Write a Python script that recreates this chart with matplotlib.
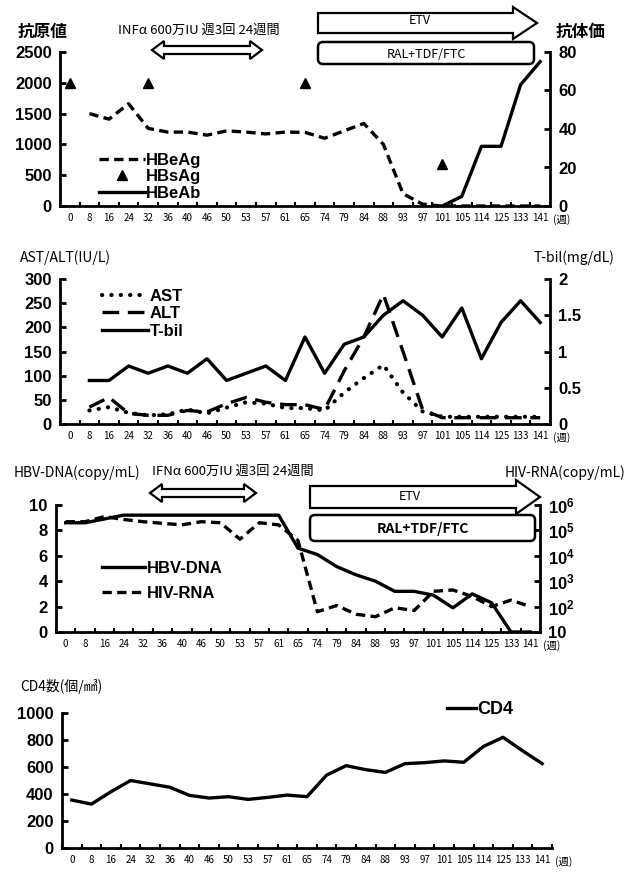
import numpy as np
import matplotlib
matplotlib.use('Agg')
import matplotlib.pyplot as plt
from matplotlib.patches import Polygon, FancyBboxPatch
from matplotlib.lines import Line2D
from matplotlib.transforms import Affine2D
from matplotlib.ticker import NullLocator

plt.rcParams['font.family'] = ['Liberation Sans', 'Noto Sans CJK JP', 'DejaVu Sans']
plt.rcParams['mathtext.fontset'] = 'custom'
plt.rcParams['mathtext.bf'] = 'Liberation Sans:bold'
plt.rcParams['mathtext.rm'] = 'Liberation Sans'

nan = np.nan

# week labels shared by all four panels
weeks = ['0', '8', '16', '24', '32', '36', '40', '46', '50', '53', '57', '61', '65',
         '74', '79', '84', '88', '93', '97', '101', '105', '114', '125', '133', '141']

# panel 1: antigen / antibody
hbeag = [nan, 1500, 1410, 1660, 1260, 1200, 1200, 1150, 1220, 1200, 1170, 1200, 1195,
         1100, 1220, 1340, 1000, 200, 30, 0, 0, 0, 0, 0, 0]
hbsag = [2000, nan, nan, nan, 2000, nan, nan, nan, nan, nan, nan, nan, 2000,
         nan, nan, nan, nan, nan, nan, 680, nan, nan, nan, nan, nan]
hbeab = [nan, nan, nan, nan, nan, nan, nan, nan, nan, nan, nan, nan, nan,
         nan, nan, nan, nan, nan, nan, 0, 5, 31, 31, 63, 75]

# panel 2: liver enzymes and bilirubin
ast = [nan, 28, 35, 23, 18, 20, 30, 22, 34, 45, 42, 33, 33,
       28, 65, 95, 122, 65, 26, 15, 15, 15, 15, 15, 15]
alt = [nan, 35, 55, 22, 18, 18, 28, 25, 42, 55, 45, 40, 40,
       30, 110, 180, 268, 150, 30, 13, 13, 13, 13, 13, 13]
tbil = [nan, 0.6, 0.6, 0.8, 0.7, 0.8, 0.7, 0.9, 0.6, 0.7, 0.8, 0.6, 1.2,
        0.7, 1.1, 1.2, 1.5, 1.7, 1.5, 1.2, 1.6, 0.9, 1.4, 1.7, 1.4]

# panel 3: viral loads
hbv_dna = [8.6, 8.6, 8.9, 9.2, 9.2, 9.2, 9.2, 9.2, 9.2, 9.2, 9.2, 9.2, 6.6,
           6.1, 5.15, 4.5, 4.0, 3.2, 3.2, 2.9, 1.9, 3.0, 2.3, 0, 0]
hiv_rna = [220000, 220000, 350000, 270000, 220000, 190000, 165000, 220000, 200000,
           45000, 200000, 165000, 40000, 63, 110, 50, 40, 90, 70, 400, 450, 250,
           100, 180, 100]

# panel 4: CD4 count
cd4 = [355, 325, 417, 500, 475, 450, 390, 370, 380, 360, 375, 392, 380,
       540, 610, 580, 560, 625, 632, 645, 635, 752, 820, 720, 625]

x = np.arange(len(weeks))
W, H = 625, 873
fig = plt.figure(figsize=(W / 100, H / 100), dpi=100)
# pixel coordinates (origin top-left) -> figure
pix = Affine2D().scale(1 / W, -1 / H).translate(0, 1) + fig.transFigure


def add_axes(l, t, r, b):
    return fig.add_axes([l / W, 1 - b / H, (r - l) / W, (b - t) / H])


def style(ax, yticks, ylabels, right=None):
    ax.set_xlim(-0.5, len(weeks) - 0.5)
    ax.set_xticks(x)
    ax.set_xticklabels(weeks, fontsize=7, family=['Noto Sans CJK JP'])
    ax.set_xticks(np.arange(-0.5, len(weeks), 1), minor=True)
    ax.tick_params(axis='x', which='major', length=0, pad=5)
    ax.tick_params(axis='x', which='minor', direction='in', length=3, width=1.5)
    ax.spines['top'].set_visible(False)
    ax.spines['right'].set_visible(False)
    for s in ['left', 'bottom']:
        ax.spines[s].set_linewidth(2)
    ax.set_ylim(yticks[0], yticks[-1])
    ax.set_yticks(yticks, labels=ylabels, fontsize=12, fontweight='bold')
    ax.tick_params(axis='y', direction='in', length=4, width=2, pad=6)
    ax.annotate('(週)', xy=(len(weeks) - 0.5, 0), xycoords=('data', 'axes fraction'),
                xytext=(2, -5.5), textcoords='offset points', ha='left', va='top',
                fontsize=7.5, family=['Noto Sans CJK JP'])


def style_right(axr, yticks, ylabels, log=False):
    for s in ['top', 'left', 'bottom']:
        axr.spines[s].set_visible(False)
    axr.spines['right'].set_linewidth(2)
    if log:
        axr.set_yscale('log')
    axr.set_ylim(yticks[0], yticks[-1])
    axr.set_yticks(yticks, labels=ylabels, fontsize=12, fontweight='bold')
    axr.yaxis.set_minor_locator(NullLocator())
    axr.tick_params(axis='y', direction='in', length=4, width=2, pad=6)


def arrow(x0, x1, y, bh, hh, hl, double=False):
    pts = [(x0, y - bh / 2), (x1 - hl, y - bh / 2), (x1 - hl, y - hh / 2), (x1, y),
           (x1 - hl, y + hh / 2), (x1 - hl, y + bh / 2), (x0, y + bh / 2)]
    if double:
        pts = [(x0, y), (x0 + hl, y - hh / 2), (x0 + hl, y - bh / 2), (x1 - hl, y - bh / 2),
               (x1 - hl, y - hh / 2), (x1, y), (x1 - hl, y + hh / 2), (x1 - hl, y + bh / 2),
               (x0 + hl, y + bh / 2), (x0 + hl, y + hh / 2)]
    fig.patches.append(Polygon(pts, closed=True, transform=pix, facecolor='white',
                               edgecolor='black', lw=1.6, joinstyle='miter'))


def rbox(x0, y0, x1, y1, label, bold=False):
    fig.patches.append(FancyBboxPatch((x0 + 4, y0 + 4), x1 - x0 - 8, y1 - y0 - 8,
                                      boxstyle='round,pad=4,rounding_size=5', transform=pix,
                                      facecolor='white', edgecolor='black', lw=1.8))
    fig.text((x0 + x1) / 2, (y0 + y1) / 2 + 1, label, transform=pix, ha='center', va='center',
             fontsize=10 if bold else 9, fontweight='bold' if bold else 'normal',
             family=['Noto Sans CJK JP'])


def ftext(xp, yp, s, size=10, weight='normal', ha='left'):
    fig.text(xp, yp, s, transform=pix, ha=ha, va='center', fontsize=size, fontweight=weight,
             family=['Noto Sans CJK JP', 'DejaVu Sans'])


lw = 2.4
dash = (0, (2.8, 1.6))

# ---------- panel 1 ----------
ax1 = add_axes(60, 52, 550, 206)
style(ax1, [0, 500, 1000, 1500, 2000, 2500], ['0', '500', '1000', '1500', '2000', '2500'])
ax1r = ax1.twinx()
style_right(ax1r, [0, 20, 40, 60, 80], ['0', '20', '40', '60', '80'])
ax1.plot(x, hbeag, color='black', lw=lw, linestyle=dash)
ax1.plot(x, hbsag, 'k^', ms=7)
ax1r.plot(x, hbeab, color='black', lw=lw)
h1 = [Line2D([], [], color='black', lw=lw, linestyle=dash),
      Line2D([], [], color='black', marker='^', ms=7, linestyle='none'),
      Line2D([], [], color='black', lw=lw)]
ax1r.legend(h1, ['HBeAg', 'HBsAg', 'HBeAb'], loc='upper left', bbox_to_anchor=(92, 146),
            bbox_transform=pix, frameon=False, handlelength=2.8, handletextpad=0.05,
            labelspacing=0.1, borderaxespad=0, prop={'size': 12, 'weight': 'bold'})
ftext(18, 32, '抗原値', 12, 'bold')
ftext(556, 32, '抗体価', 12, 'bold')
ftext(118, 30, 'INFα 600万IU 週3回 24週間', 9.5)
arrow(152, 262, 50, 8, 18, 12, double=True)
arrow(318, 537, 23, 20, 32, 24)
ftext(420, 20, 'ETV', 9, ha='center')
rbox(318, 42, 534, 64, 'RAL+TDF/FTC')

# ---------- panel 2 ----------
ax2 = add_axes(60, 279, 550, 424)
style(ax2, [0, 50, 100, 150, 200, 250, 300], ['0', '50', '100', '150', '200', '250', '300'])
ax2r = ax2.twinx()
style_right(ax2r, [0, 0.5, 1, 1.5, 2], ['0', '0.5', '1', '1.5', '2'])
ax2.plot(x, ast, color='black', lw=3, linestyle=(0, (0.05, 2.2)), dash_capstyle='round')
ax2.plot(x, alt, color='black', lw=lw, linestyle=(0, (5, 2.6)))
ax2r.plot(x, tbil, color='black', lw=lw)
h2 = [Line2D([], [], color='black', lw=3, linestyle=(0, (0.05, 2.2)), dash_capstyle='round'),
      Line2D([], [], color='black', lw=lw, linestyle=(0, (5, 2.6))),
      Line2D([], [], color='black', lw=lw)]
ax2r.legend(h2, ['AST', 'ALT', 'T-bil'], loc='upper left', bbox_to_anchor=(95, 282),
            bbox_transform=pix, frameon=False, handlelength=2.8, handletextpad=0.1,
            labelspacing=0.15, borderaxespad=0, prop={'size': 12, 'weight': 'bold'})
ftext(20, 258, 'AST/ALT(IU/L)', 10)
ftext(614, 258, 'T-bil(mg/dL)', 10, ha='right')

# ---------- panel 3 ----------
ax3 = add_axes(56, 505, 540, 632)
style(ax3, [0, 2, 4, 6, 8, 10], ['0', '2', '4', '6', '8', '10'])
ax3r = ax3.twinx()
style_right(ax3r, [10, 100, 1e3, 1e4, 1e5, 1e6],
            ['10'] + [r'$\mathbf{10^{%d}}$' % k for k in range(2, 7)], log=True)
ax3.plot(x, hbv_dna, color='black', lw=lw)
ax3r.plot(x, hiv_rna, color='black', lw=lw, linestyle=dash)
h3 = [Line2D([], [], color='black', lw=lw), Line2D([], [], color='black', lw=lw, linestyle=dash)]
ax3r.legend(h3, ['HBV-DNA', 'HIV-RNA'], loc='upper left', bbox_to_anchor=(95, 554),
            bbox_transform=pix, frameon=False, handlelength=2.6, handletextpad=0.1,
            labelspacing=0.6, borderaxespad=0, prop={'size': 12, 'weight': 'bold'})
ftext(14, 473, 'HBV-DNA(copy/mL)', 10)
ftext(625, 473, 'HIV-RNA(copy/mL)', 10, ha='right')
ftext(152, 471, 'IFNα 600万IU 週3回 24週間', 9.5)
arrow(150, 256, 493, 8, 18, 12, double=True)
arrow(310, 540, 497, 22, 34, 24)
ftext(410, 497, 'ETV', 9, ha='center')
rbox(310, 515, 535, 541, 'RAL+TDF/FTC', bold=True)

# ---------- panel 4 ----------
ax4 = add_axes(62, 713, 552, 848)
style(ax4, [0, 200, 400, 600, 800, 1000], ['0', '200', '400', '600', '800', '1000'])
ax4.plot(x, cd4, color='black', lw=lw)
ax4.legend([Line2D([], [], color='black', lw=lw)], ['CD4'], loc='upper left',
           bbox_to_anchor=(440, 694), bbox_transform=pix, frameon=False, handlelength=1.6,
           handletextpad=0.05, borderaxespad=0, prop={'size': 13, 'weight': 'bold'})
ftext(20, 686, 'CD4数(個/㎣)', 10)

fig.savefig('out.png', dpi=100)
